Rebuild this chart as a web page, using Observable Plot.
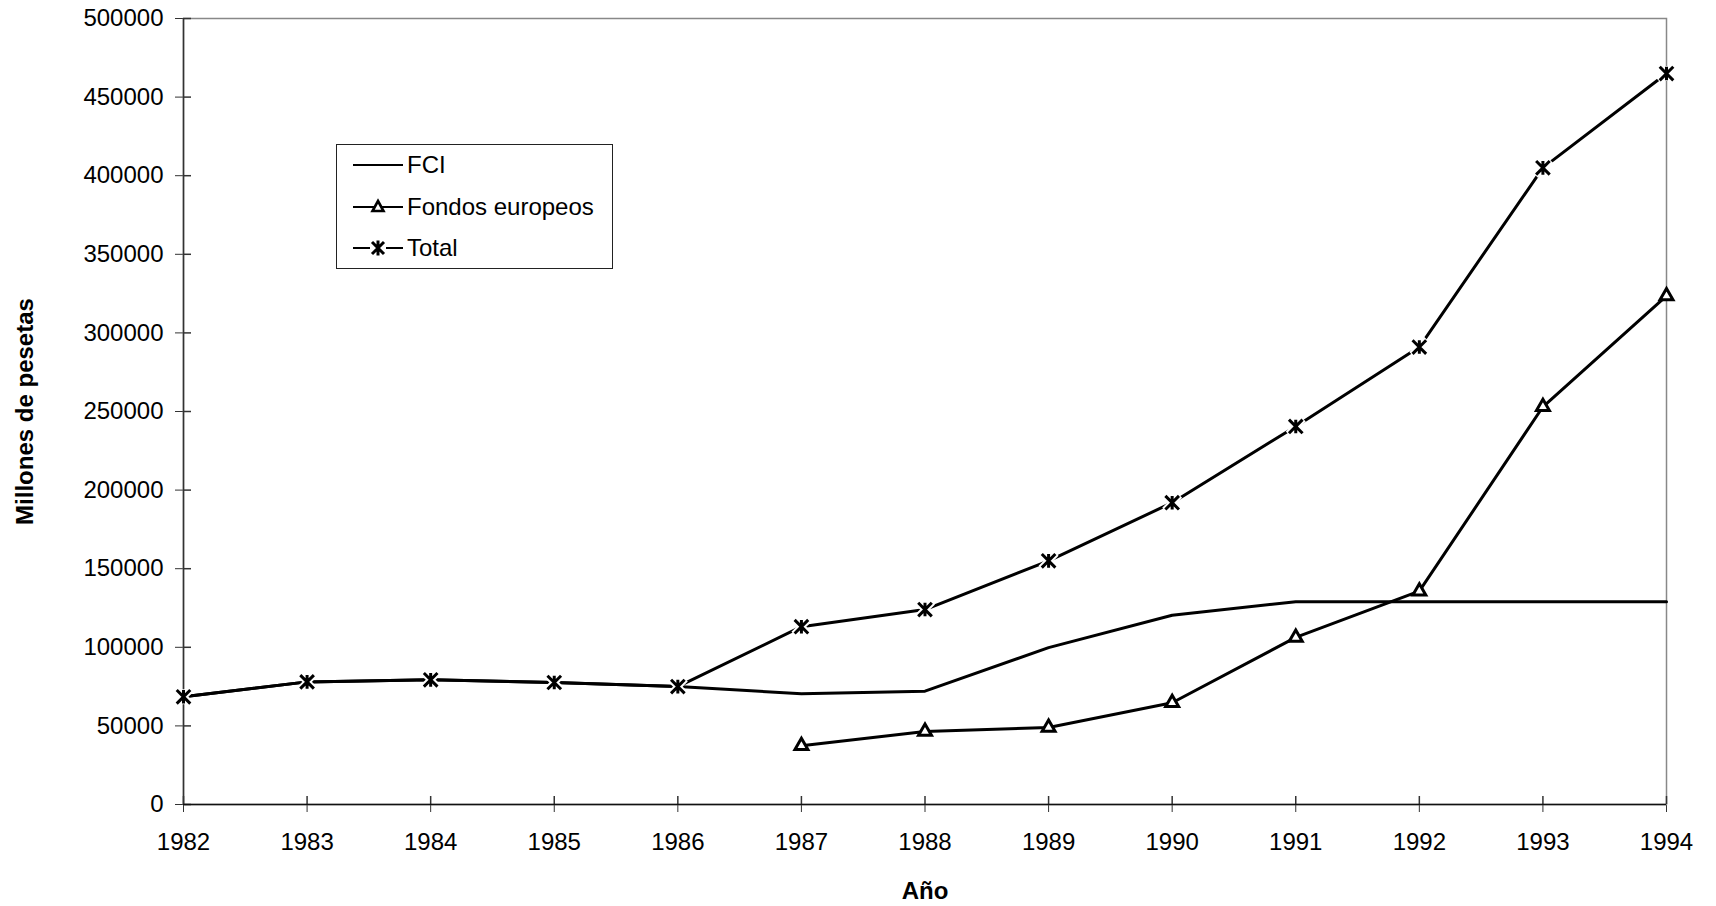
<!DOCTYPE html>
<html>
<head>
<meta charset="utf-8">
<script src="https://cdn.jsdelivr.net/npm/d3@7"></script>
<script src="https://cdn.jsdelivr.net/npm/@observablehq/plot@0.6"></script>
<style>
  html, body { margin: 0; padding: 0; background: #fff; }
  #wrap { position: relative; width: 1716px; height: 906px; font-family: "Liberation Sans", Arial, sans-serif; }
  #legend { position: absolute; left: 336px; top: 144px; width: 277px; height: 125px; border: 1.5px solid #222; background: #fff; box-sizing: border-box; }
  .item { position: absolute; left: 16px; height: 30px; display: flex; align-items: center; font-size: 24px; color: #000; }
  .item svg { margin-right: 4px; }
</style>
</head>
<body>
<div id="wrap"></div>
<script>
const years  = [1982, 1983, 1984, 1985, 1986, 1987, 1988, 1989, 1990, 1991, 1992, 1993, 1994];
const fci    = [68500, 78000, 79300, 77600, 75000, 70500, 72100, 99800, 120400, 129000, 129000, 129000, 129000];
const fondos = [null, null, null, null, null, 37400, 46500, 49000, 64700, 106300, 135700, 253000, 323500];
const total  = [68500, 78000, 79300, 77600, 75000, 113100, 124000, 155000, 192000, 240500, 291000, 405000, 465000];
const yTicks = [0, 50000, 100000, 150000, 200000, 250000, 300000, 350000, 400000, 450000, 500000];
const seriesNames = ["FCI", "Fondos europeos", "Total"];

const rows = years.map((year, i) => ({year, fci: fci[i], fondos: fondos[i], total: total[i]}));
const fondosRows = rows.filter(d => d.fondos != null);

const star = {
  draw(ctx, size) {
    const r = Math.sqrt(size / Math.PI);
    ctx.moveTo(-r, -r); ctx.lineTo(r, r);
    ctx.moveTo(r, -r); ctx.lineTo(-r, r);
    ctx.moveTo(0, -r); ctx.lineTo(0, r);
  }
};

const chart = Plot.plot({
  width: 1716,
  height: 906,
  marginLeft: 183,
  marginRight: 50,
  marginTop: 18,
  marginBottom: 102,
  style: {fontFamily: '"Liberation Sans", Arial, sans-serif', fontSize: "24px", color: "#000", background: "#fff"},
  x: {domain: [1982, 1994], ticks: years, tickFormat: d => String(d), tickSize: 8, tickPadding: 20,
      label: "Año", labelAnchor: "center", labelOffset: 94, labelArrow: "none"},
  y: {domain: [0, 500000], ticks: yTicks, tickFormat: d3.format("d"), tickSize: 8, tickPadding: 12,
      label: "Millones de pesetas", labelAnchor: "center", labelOffset: 168, labelArrow: "none"},
  marks: [
    Plot.frame({stroke: "#888", strokeWidth: 1.5}),
    Plot.ruleY(yTicks, {x1: 1982, x2: 1982, insetRight: -8, stroke: "#333", strokeWidth: 1.5}),
    Plot.ruleX(years, {y1: 0, y2: 0, insetTop: -8, stroke: "#333", strokeWidth: 1.5}),
    Plot.ruleX([1982], {stroke: "#333", strokeWidth: 1.5}),
    Plot.ruleY([0], {stroke: "#111", strokeWidth: 1.5}),
    Plot.line(rows, {x: "year", y: "fci", stroke: "#000", strokeWidth: 3}),
    Plot.line(fondosRows, {x: "year", y: "fondos", stroke: "#000", strokeWidth: 3}),
    Plot.line(rows, {x: "year", y: "total", stroke: "#000", strokeWidth: 3}),
    Plot.dot(rows, {x: "year", y: "total", symbol: star, r: 7.5, stroke: "#fff", strokeWidth: 7}),
    Plot.dot(rows, {x: "year", y: "total", symbol: star, r: 6.8, stroke: "#000", strokeWidth: 3}),
    Plot.dot(fondosRows, {x: "year", y: "fondos", symbol: "triangle", r: 4.8, fill: "#fff", stroke: "#000", strokeWidth: 3})
  ]
});

chart.querySelectorAll('g[aria-label$="axis label"]').forEach(g => {
  g.setAttribute("font-weight", "bold");
  g.setAttribute("font-size", "24");
});
chart.querySelectorAll('g[aria-label$="axis tick"]').forEach(g => g.setAttribute("stroke", "#333"));

const wrap = document.getElementById("wrap");
wrap.appendChild(chart);

// legend
const legend = document.createElement("div");
legend.id = "legend";
const tops = [5, 47, 88];
const sym = [
  '',
  '<path d="M25,-6 L30.5,4 L19.5,4 Z" fill="#fff" stroke="#000" stroke-width="2.6"/>',
  '<path d="M19,-6 L31,6 M31,-6 L19,6 M25,-7.5 L25,7.5" stroke="#000" stroke-width="3"/>'
];
seriesNames.forEach((name, i) => {
  const it = document.createElement("div");
  it.className = "item";
  it.style.top = tops[i] + "px";
  const line = '<line x1="0" y1="0" x2="50" y2="0" stroke="#000" stroke-width="2.2"/>';
  const cover = i === 2 ? '<rect x="17" y="-9" width="16" height="18" fill="#fff"/>' : '';
  it.innerHTML = `<svg width="50" height="20" viewBox="0 -10 50 20">${line}${cover}${sym[i]}</svg><span>${name}</span>`;
  legend.appendChild(it);
});
wrap.appendChild(legend);
</script>
</body>
</html>
